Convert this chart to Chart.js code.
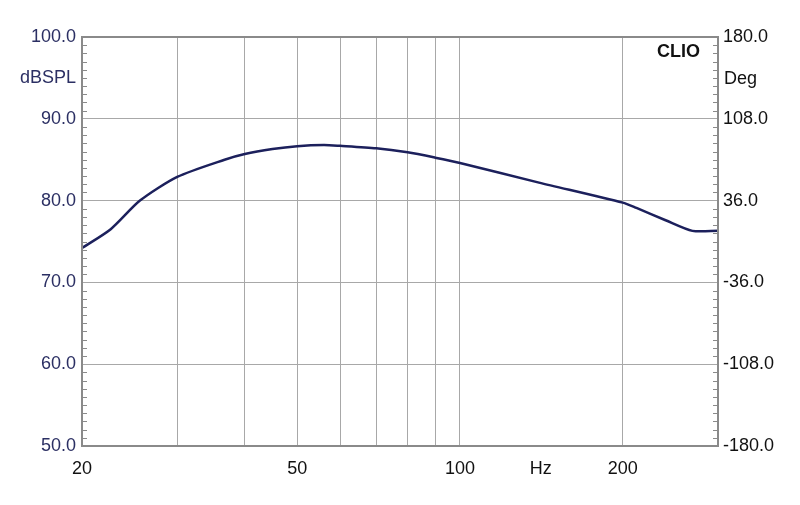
<!DOCTYPE html>
<html>
<head>
<meta charset="utf-8">
<script src="https://cdn.jsdelivr.net/npm/chart.js@4"></script>
<style>
  html, body { margin: 0; padding: 0; background: #ffffff; }
  #wrap { width: 800px; height: 505px; position: relative; }
</style>
</head>
<body>
<div id="wrap"><canvas id="grafico"></canvas></div>
<script>
// valores
var frequencias = [20, 22.6, 25.6, 30, 36.7, 40, 45, 50, 56, 60, 70, 80, 90, 100, 140, 200, 212, 240, 269, 300];
var nivelSPL = [74.2, 76.5, 80.0, 82.9, 85.0, 85.7, 86.3, 86.65, 86.8, 86.7, 86.4, 85.9, 85.25, 84.6, 82.2, 79.75, 79.1, 77.6, 76.3, 76.3];

var gradeX = [20, 30, 40, 50, 60, 70, 80, 90, 100, 141, 200, 300];
var rotulosX = { 20: "20", 50: "50", 100: "100", 141: "Hz", 200: "200" };
var ticksDB = [50, 60, 70, 80, 90, 100];
var ticksGraus = [-180, -108, -36, 36, 108, 180];

var fonte = "'Liberation Sans', Arial, sans-serif";
var corLinha = "#1c205c";
var corGrade = "#a8a8a8";
var corBorda = "#8a8a8a";

var pontos = [];
for (var i = 0; i < frequencias.length; i++) {
  pontos.push({ x: frequencias[i], y: nivelSPL[i] });
}

// moldura, marcas menores e textos soltos
const extras = {
  id: "extras",
  afterDraw(chart) {
    const ctx = chart.ctx;
    const area = chart.chartArea;
    const y = chart.scales.y;
    ctx.save();
    ctx.strokeStyle = corBorda;
    ctx.lineWidth = 1;
    for (var v = 50; v <= 100; v++) {
      if (v % 10 == 0) continue;
      var py = Math.round(y.getPixelForValue(v)) + 0.5;
      ctx.beginPath();
      ctx.moveTo(area.left, py);
      ctx.lineTo(area.left + 5, py);
      ctx.moveTo(area.right, py);
      ctx.lineTo(area.right - 5, py);
      ctx.stroke();
    }
    ctx.lineWidth = 2;
    ctx.strokeRect(area.left, area.top, area.right - area.left, area.bottom - area.top);

    ctx.textBaseline = "middle";
    ctx.font = "bold 18px " + fonte;
    ctx.fillStyle = "#111111";
    ctx.textAlign = "right";
    ctx.fillText("CLIO", area.right - 18, area.top + 15);

    ctx.font = "18px " + fonte;
    ctx.fillStyle = "#2b2f63";
    ctx.fillText("dBSPL", area.left - 6, area.top + 41);
    ctx.textAlign = "left";
    ctx.fillStyle = "#111111";
    ctx.fillText("Deg", area.right + 6, area.top + 42);
    ctx.restore();
  },
};

const ctxGrafico = document.getElementById("grafico");

new Chart(ctxGrafico, {
  type: "line",
  data: {
    datasets: [
      {
        label: "SPL",
        data: pontos,
        borderColor: corLinha,
        backgroundColor: corLinha,
        borderWidth: 2.5,
        pointRadius: 0,
        tension: 0.25,
        yAxisID: "y",
      },
    ],
  },
  options: {
    responsive: true,
    maintainAspectRatio: false,
    animation: false,
    layout: { padding: { top: 37, left: 0, right: 0, bottom: 0 } },
    plugins: {
      legend: { display: false },
      tooltip: { enabled: false },
    },
    scales: {
      x: {
        type: "logarithmic",
        min: 20,
        max: 300,
        afterBuildTicks: function (scale) {
          scale.ticks = gradeX.map(function (v) { return { value: v }; });
        },
        afterFit: function (scale) { scale.height = 59; },
        ticks: {
          autoSkip: false,
          maxRotation: 0,
          padding: 12,
          color: "#111111",
          font: { family: fonte, size: 18 },
          callback: function (value) {
            return rotulosX[value] || "";
          },
        },
        grid: {
          drawTicks: false,
          color: function (c) {
            return c.tick && c.tick.value == 141 ? "rgba(0,0,0,0)" : corGrade;
          },
          lineWidth: 1,
        },
        border: { display: false },
      },
      y: {
        position: "left",
        min: 50,
        max: 100,
        afterBuildTicks: function (scale) {
          scale.ticks = ticksDB.map(function (v) { return { value: v }; });
        },
        afterFit: function (scale) { scale.width = 82; },
        ticks: {
          padding: 6,
          color: "#2b2f63",
          font: { family: fonte, size: 18 },
          callback: function (value) { return value.toFixed(1); },
        },
        grid: { drawTicks: false, color: corGrade, lineWidth: 1 },
        border: { display: false },
      },
      y2: {
        position: "right",
        min: -180,
        max: 180,
        afterBuildTicks: function (scale) {
          scale.ticks = ticksGraus.map(function (v) { return { value: v }; });
        },
        afterFit: function (scale) { scale.width = 82; },
        ticks: {
          padding: 5,
          color: "#111111",
          font: { family: fonte, size: 18 },
          callback: function (value) { return value.toFixed(1); },
        },
        grid: { drawOnChartArea: false, drawTicks: false },
        border: { display: false },
      },
    },
  },
  plugins: [extras],
});
</script>
</body>
</html>
